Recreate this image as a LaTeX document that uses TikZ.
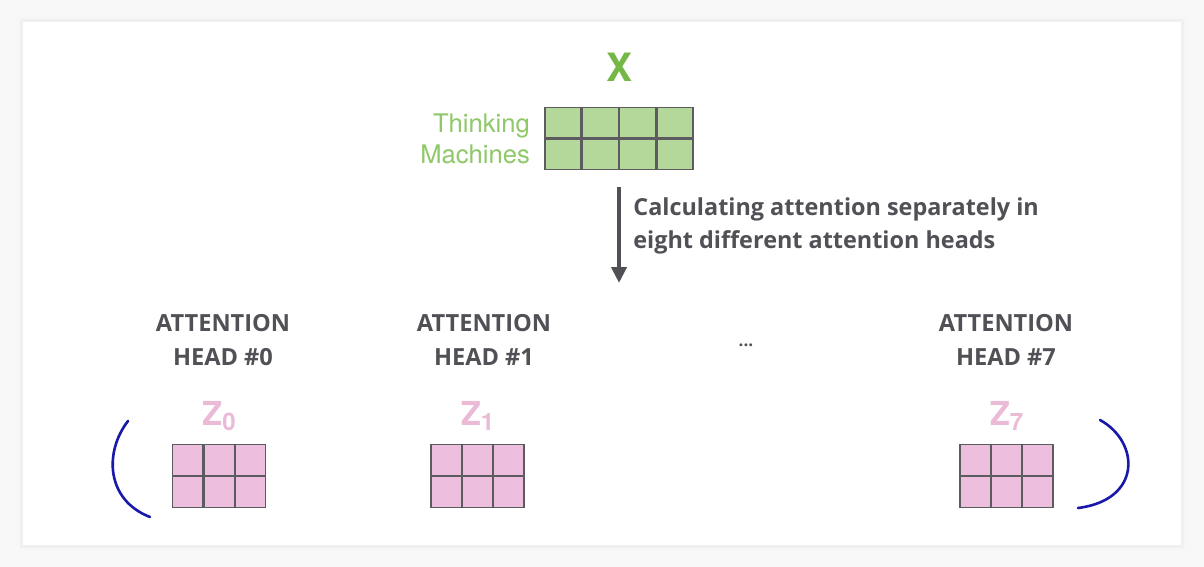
\documentclass[tikz,border=0pt]{standalone}
\usepackage{fontspec}
\setmainfont{TeX Gyre Heros}
\newfontfamily\headfont{Open Sans}
\usetikzlibrary{arrows.meta,positioning,matrix}
\definecolor{xgreen}{RGB}{118,184,72}
\definecolor{wordgreen}{RGB}{142,200,104}
\definecolor{cellgreen}{RGB}{180,216,154}
\definecolor{cellpink}{RGB}{238,190,222}
\definecolor{zpink}{RGB}{234,186,214}
\definecolor{textgray}{RGB}{80,80,86}
\definecolor{gridgray}{RGB}{92,92,96}
\definecolor{penblue}{RGB}{24,24,170}
\definecolor{pagegray}{RGB}{248,248,248}

\begin{document}
\begin{tikzpicture}[x=0.5pt,y=-0.5pt,
    gcell/.style={draw=gridgray, line width=0.7pt, fill=cellgreen, minimum width=18pt, minimum height=15.25pt, inner sep=0pt, outer sep=0pt},
    pcell/.style={draw=gridgray, line width=0.6pt, fill=cellpink, minimum width=15.1pt, minimum height=15.5pt, inner sep=0pt, outer sep=0pt},
    cellgrid/.style={matrix of nodes, nodes in empty cells, inner sep=0pt, outer sep=0pt, column sep=0pt, row sep=0pt},
    xlbl/.style={font=\bfseries\fontsize{19.5}{19.5}\selectfont, text=xgreen, inner sep=0pt},
    words/.style={font=\fontsize{12.8}{15.5}\selectfont, text=wordgreen, align=right, inner sep=0pt},
    note/.style={font=\headfont\bfseries\fontsize{11.7}{16.5}\selectfont, text=textgray, align=left, inner sep=0pt},
    headlbl/.style={font=\headfont\bfseries\fontsize{11.8}{17}\selectfont, text=textgray, align=center, inner sep=0pt},
    zlbl/.style={font=\bfseries\fontsize{16.5}{16.5}\selectfont, text=zpink, inner sep=0pt},
    flow/.style={draw=textgray, line width=2pt, -{Triangle[length=8pt,width=7.5pt]}},
    pen/.style={draw=penblue, line width=1.3pt, line cap=round},
    >=LaTeX
  ]
  % Page and panel
  \useasboundingbox (0,0) rectangle (1204,567);
  \fill[pagegray] (0,0) rectangle (1204,567);
  \fill[black!3] (17,16) rectangle (1187,551);
  \fill[black!6] (20,19) rectangle (1184,548);
  \fill[white] (23,22) rectangle (1181,545);

  % Input X
  \matrix[cellgrid, nodes={gcell}] (xmat) at (619,138.5) {&&&\\&&&\\};
  \node[xlbl, above=12.5pt of xmat] (xname) {X};
  \node[words, left=7pt of xmat] (xwords) {Thinking\\Machines};

  % Split into heads
  \coordinate[below=8.5pt of xmat] (flowtop);
  \coordinate (flowend) at (619,283);
  \draw[flow] (flowtop) -- (flowend);
  \node[note, anchor=west] (note) at (633,226) {Calculating attention separately in\\eight different attention heads};

  % Heads
  \node[headlbl] (head0) at (223,340) {ATTENTION\\HEAD \#0};
  \node[headlbl] (head1) at (484,340) {ATTENTION\\HEAD \#1};
  \node[headlbl] (head7) at (1006,340) {ATTENTION\\HEAD \#7};
  \node[font=\headfont\bfseries\fontsize{8.5}{8.5}\selectfont, text=textgray, inner sep=0pt] (more) at (746,345) {...};

  % Outputs Z
  \matrix[cellgrid, nodes={pcell}] (zmat0) at (219,476) {&&\\&&\\};
  \matrix[cellgrid, nodes={pcell}] (zmat1) at (477.5,476) {&&\\&&\\};
  \matrix[cellgrid, nodes={pcell}] (zmat7) at (1006.5,476) {&&\\&&\\};
  \node[zlbl, above=6.5pt of zmat0] (zname0) {Z\raisebox{-2.5pt}{\fontsize{12}{12}\selectfont 0}};
  \node[zlbl, above=6.5pt of zmat1] (zname1) {Z\raisebox{-2.5pt}{\fontsize{12}{12}\selectfont 1}};
  \node[zlbl, above=6.5pt of zmat7] (zname7) {Z\raisebox{-2.5pt}{\fontsize{12}{12}\selectfont 7}};

  % Pen marks
  \draw[pen] (128,421) .. controls (104,452) and (106,500) .. (150,517);
  \draw[pen] (1100,420) .. controls (1140,442) and (1142,500) .. (1078,508);
\end{tikzpicture}
\end{document}
